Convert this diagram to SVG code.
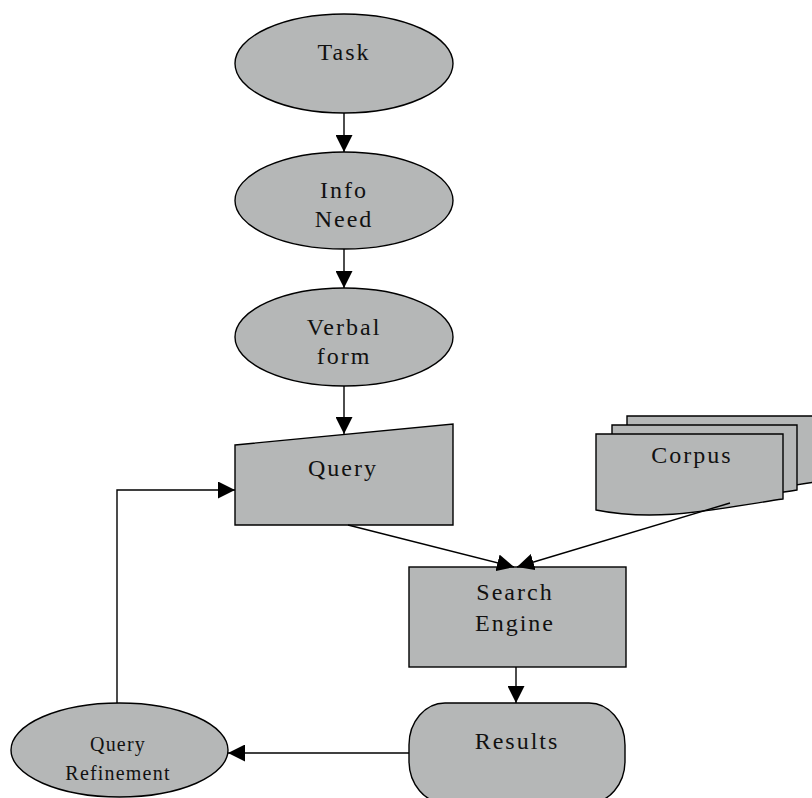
<svg xmlns="http://www.w3.org/2000/svg" width="812" height="798" viewBox="0 0 812 798">
<style>
.s{fill:#b5b7b7;stroke:#000;stroke-width:1.4}
.t{font-family:"Liberation Serif","Times New Roman",serif;font-size:24px;letter-spacing:2px;text-anchor:middle;fill:#111}
.ts{font-family:"Liberation Serif","Times New Roman",serif;font-size:20px;letter-spacing:1.2px;text-anchor:middle;fill:#111}
.c{fill:none;stroke:#000;stroke-width:1.4}
</style>
<defs>
<marker id="ah" markerUnits="userSpaceOnUse" markerWidth="17" markerHeight="17" viewBox="0 0 17 17" refX="17" refY="8.5" orient="auto">
<path d="M0,0 L17,8.5 L0,17 z" fill="#000"/>
</marker>
</defs>
<rect width="812" height="798" fill="#fff"/>
<g id="task">
<ellipse class="s" cx="344" cy="63.5" rx="109" ry="49.5"/>
<text class="t" x="344" y="60">Task</text>
</g>
<g id="info-need">
<ellipse class="s" cx="344" cy="200.5" rx="109" ry="48.5"/>
<text class="t" x="344" y="198">Info</text>
<text class="t" x="344" y="227">Need</text>
</g>
<g id="verbal-form">
<ellipse class="s" cx="344" cy="337" rx="109" ry="49"/>
<text class="t" x="344" y="335">Verbal</text>
<text class="t" x="344" y="364">form</text>
</g>
<g id="query">
<polygon class="s" points="235,445 453,424 453,525 235,525"/>
<text class="t" x="343" y="476">Query</text>
</g>
<g id="corpus">
<path class="s" d="M627,416 H822 V481 C760,490 690,505 627,492 Z"/>
<path class="s" d="M612,425 H797 V490 C735,499 676,513 612,501 Z"/>
<path class="s" d="M596,434 H783 V499 C720,508 660,523 596,510 Z"/>
<text class="t" x="692" y="463">Corpus</text>
</g>
<g id="search-engine">
<rect class="s" x="409" y="567" width="217" height="100"/>
<text class="t" x="515" y="600">Search</text>
<text class="t" x="515" y="631">Engine</text>
</g>
<g id="results">
<rect class="s" x="409" y="703" width="216" height="100" rx="36" ry="42"/>
<text class="t" x="517" y="749">Results</text>
</g>
<g id="query-refinement">
<ellipse class="s" cx="119.5" cy="750" rx="108.5" ry="47"/>
<text class="ts" x="118" y="751">Query</text>
<text class="ts" x="118" y="780">Refinement</text>
</g>
<g id="connectors">
<line class="c" x1="344" y1="113" x2="344" y2="152" marker-end="url(#ah)"/>
<line class="c" x1="344" y1="249" x2="344" y2="288" marker-end="url(#ah)"/>
<line class="c" x1="344" y1="386" x2="344" y2="434" marker-end="url(#ah)"/>
<line class="c" x1="348" y1="525" x2="514" y2="567" marker-end="url(#ah)"/>
<line class="c" x1="730" y1="503" x2="517" y2="567" marker-end="url(#ah)"/>
<line class="c" x1="516" y1="667" x2="516" y2="703" marker-end="url(#ah)"/>
<line class="c" x1="409" y1="753" x2="228" y2="753" marker-end="url(#ah)"/>
<polyline class="c" points="117,703 117,490 235,490" marker-end="url(#ah)"/>
</g>
</svg>
